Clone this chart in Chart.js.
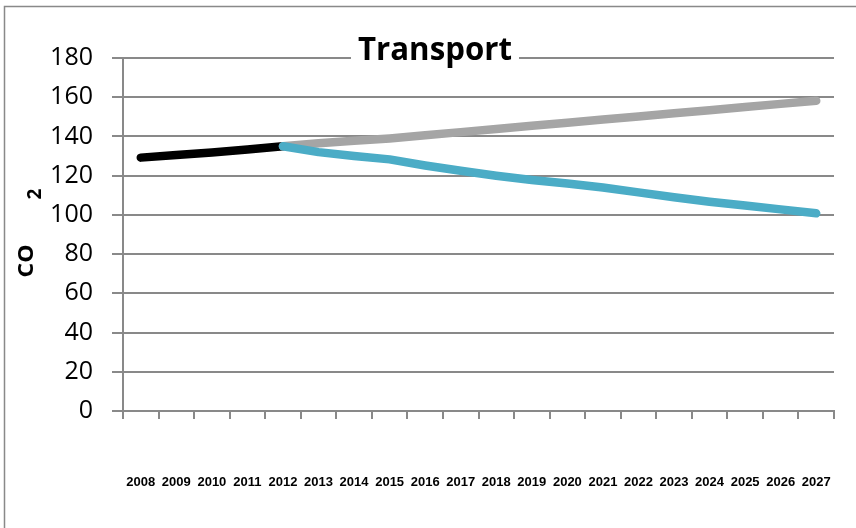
<!DOCTYPE html>
<html>
<head>
<meta charset="utf-8">
<script src="https://cdn.jsdelivr.net/npm/chart.js@4.4.1/dist/chart.umd.min.js"></script>
<style>
  html, body { margin: 0; padding: 0; background: #fff; }
</style>
</head>
<body>
<canvas id="c" width="856" height="528"></canvas>
<script>
// Years on the category axis
const years = ['2008','2009','2010','2011','2012','2013','2014','2015','2016','2017',
               '2018','2019','2020','2021','2022','2023','2024','2025','2026','2027'];

// Historical emissions (black)
const historical = [129.2, 130.5, 131.8, 133.3, 135.0, null, null, null, null, null,
                    null, null, null, null, null, null, null, null, null, null];

// Business-as-usual projection (grey)
const baseline = [null, null, null, null, 135.0, 136.5, 137.8, 139.0, 140.6, 142.2,
                  143.8, 145.4, 147.0, 148.6, 150.2, 151.8, 153.4, 155.0, 156.6, 158.2];

// Reduction pathway (blue)
const pathway = [null, null, null, null, 135.0, 132.0, 130.0, 128.3, 125.2, 122.5,
                 120.0, 117.8, 116.0, 114.0, 111.5, 109.0, 106.7, 104.8, 102.8, 100.8];

const yTicks = { min: 0, max: 180, step: 20 };

const GRID = '#898989';

const frame = {
  id: 'frame',
  beforeDraw(chart) {
    const ctx = chart.ctx;
    ctx.save();
    ctx.fillStyle = '#fff';
    ctx.fillRect(0, 0, chart.width, chart.height);
    ctx.strokeStyle = GRID;
    ctx.lineWidth = 1.5;
    ctx.strokeRect(4.5, 6.5, 900, 600);
    ctx.restore();
  },
  afterDraw(chart) {
    const ctx = chart.ctx;
    ctx.save();
    // title box sits over the top gridline
    ctx.fillStyle = '#fff';
    ctx.fillRect(351, 46, 168, 20);
    ctx.fillStyle = '#000';
    ctx.font = 'bold 32px "Open Sans"';
    ctx.textBaseline = 'alphabetic';
    ctx.textAlign = 'center';
    const w = ctx.measureText('Transport').width;
    ctx.translate(435, 60);
    ctx.scale(154 / w, 1);
    ctx.fillText('Transport', 0, 0);
    ctx.restore();

    // rotated unit label on the value axis
    ctx.save();
    ctx.fillStyle = '#000';
    ctx.textAlign = 'center';
    ctx.textBaseline = 'middle';
    ctx.translate(27, 261);
    ctx.rotate(-Math.PI / 2);
    ctx.font = 'bold 22px "Open Sans"';
    const cw = ctx.measureText('CO').width;
    ctx.scale(33 / cw, 1);
    ctx.fillText('CO', 0, 0);
    ctx.restore();
    ctx.save();
    ctx.fillStyle = '#000';
    ctx.textAlign = 'center';
    ctx.textBaseline = 'middle';
    ctx.translate(36, 194);
    ctx.rotate(-Math.PI / 2);
    ctx.font = 'bold 19px "Open Sans"';
    ctx.fillText('2', 0, 0);
    ctx.restore();
  }
};

const lineStyle = {
  borderWidth: 8.5,
  pointRadius: 0,
  pointHoverRadius: 0,
  borderCapStyle: 'round',
  borderJoinStyle: 'round',
  tension: 0,
  fill: false,
  spanGaps: false
};

new Chart(document.getElementById('c'), {
  type: 'line',
  data: {
    labels: years,
    datasets: [
      Object.assign({ label: 'Pathway', data: pathway, borderColor: '#4bacc6' }, lineStyle),
      Object.assign({ label: 'Baseline', data: baseline, borderColor: '#a5a5a5' }, lineStyle),
      Object.assign({ label: 'Historical', data: historical, borderColor: '#000000' }, lineStyle)
    ]
  },
  options: {
    responsive: false,
    animation: false,
    events: [],
    layout: { padding: { top: 58, right: 22, left: 0, bottom: 0 } },
    plugins: {
      legend: { display: false },
      tooltip: { enabled: false },
      title: { display: false }
    },
    scales: {
      x: {
        offset: true,
        afterFit(scale) {
          scale.height = 117;
          scale.paddingLeft = 0;
          scale.paddingRight = 0;
        },
        grid: {
          offset: true,
          drawOnChartArea: false,
          drawTicks: true,
          tickLength: 8,
          color: GRID,
          lineWidth: 2
        },
        border: { display: true, color: GRID, width: 2 },
        ticks: {
          autoSkip: false,
          maxRotation: 0,
          minRotation: 0,
          padding: 56,
          color: '#000',
          font: { family: '"Liberation Sans Narrow", "Liberation Sans", sans-serif', size: 13, weight: 'bold' }
        }
      },
      y: {
        min: yTicks.min,
        max: yTicks.max,
        afterFit(scale) { scale.width = 123; },
        grid: {
          color: GRID,
          lineWidth: 2,
          drawTicks: true,
          tickLength: 11
        },
        border: { display: true, color: GRID, width: 2 },
        ticks: {
          stepSize: yTicks.step,
          padding: 19,
          color: '#000',
          font: { family: '"Open Sans", sans-serif', size: 25 }
        }
      }
    }
  },
  plugins: [frame]
});
</script>
</body>
</html>
